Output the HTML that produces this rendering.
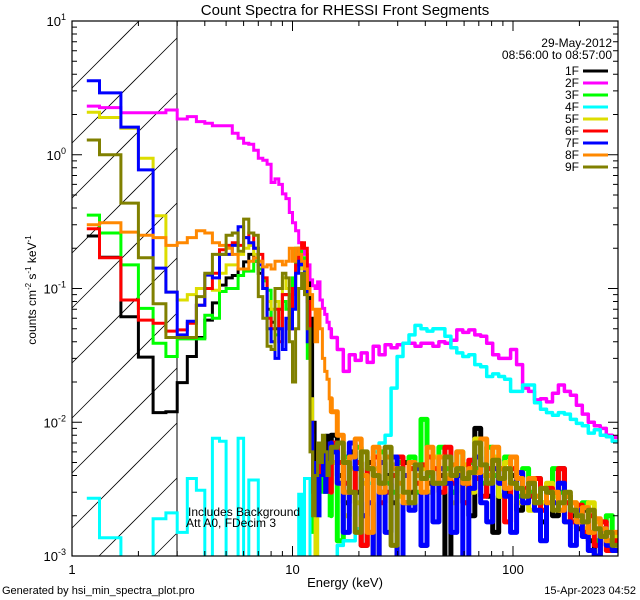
<!DOCTYPE html>
<html><head><meta charset="utf-8"><style>
html,body{margin:0;padding:0;background:#fff;width:640px;height:600px;overflow:hidden;}
svg{display:block;font-family:"Liberation Sans",sans-serif;overflow:hidden;}
</style></head><body>
<svg id="chart" width="640" height="600" viewBox="0 0 640 600" xmlns="http://www.w3.org/2000/svg">
<rect x="0" y="0" width="640" height="600" fill="#fff"/>
<defs><clipPath id="plotclip"><rect x="72" y="21" width="546" height="535"/></clipPath></defs>
<g id="hatch"></g>
<line x1="177" y1="21" x2="177" y2="556" stroke="#000" stroke-width="1"/>
<g id="series" clip-path="url(#plotclip)"></g>
<g id="axes"></g>
<text x="345" y="15" font-size="15" text-anchor="middle">Count Spectra for RHESSI Front Segments</text>
<text x="345" y="587" font-size="13" text-anchor="middle">Energy (keV)</text>
<text transform="translate(36,290) rotate(-90)" font-size="12" text-anchor="middle">counts cm<tspan font-size="8" dy="-5">-2</tspan><tspan dy="5"> s</tspan><tspan font-size="8" dy="-5">-1</tspan><tspan dy="5"> keV</tspan><tspan font-size="8" dy="-5">-1</tspan></text>
<text x="2" y="594" font-size="11">Generated by hsi_min_spectra_plot.pro</text>
<text x="636" y="594" font-size="11" text-anchor="end">15-Apr-2023 04:52</text>
<text x="188" y="516" font-size="12">Includes Background</text>
<text x="186" y="527" font-size="12">Att A0, FDecim 3</text>
<text x="612" y="47" font-size="12" text-anchor="end">29-May-2012</text>
<text x="612" y="59" font-size="12" text-anchor="end">08:56:00 to 08:57:00</text>
<g id="legend"></g>
</svg>
<script>
const NS="http://www.w3.org/2000/svg";
const segNames=["1F","2F","3F","4F","5F","6F","7F","8F","9F"];
const segColors=["#000000","#ff00ff","#00ff00","#00ffff","#dddd00","#ff0000","#0000ff","#ff8800","#808000"];
const xTickLabels=["1","10","100"];
const yTickExps=["1","0","-1","-2","-3"];
const lowEdges=[1.167];for(let k=0;k<=41;k++)lowEdges.push(4/3+k/3);
const highEdges=[];for(let k=0;k<=48;k++)highEdges.push(15*Math.pow(20,k/48));
const s1Low=[0.247,0.171,0.0615,0.0307,0.0118,0.012,0.0198,0.031,0.043,0.058,0.078,0.106,0.12,0.125,0.14,0.158,0.18,0.16,0.13,0.1,0.07,0.056,0.05,0.07,0.09,0.09,0.05,0.1,0.14,0.17,0.16,0.15,0.12,0.06,0.01,0.005,0.002,0.004,0.006,0.003,0.008,0.006];
const s2Low=[2.31,2.25,2.06,2.06,2.06,2.16,1.85,1.93,1.77,1.72,1.65,1.65,1.65,1.45,1.33,1.22,1.2,1.08,0.94,0.91,0.85,0.62,0.66,0.6,0.51,0.47,0.37,0.31,0.27,0.22,0.2,0.18,0.15,0.116,0.105,0.1,0.112,0.082,0.071,0.064,0.056,0.05];
const s3Low=[0.354,0.26,0.15,0.071,0.039,0.031,0.042,0.042,0.042,0.063,0.06,0.095,0.1,0.1,0.125,0.135,0.135,0.16,0.14,0.114,0.097,0.04,0.045,0.05,0.08,0.07,0.09,0.12,0.2,0.19,0.17,0.1,0.03,0.008,0.0015,0.0007,0.003,0.005,0.003,0.006,0.004,0.002];
const s4Low=[0.0027,0.00137,0.0005,0.0005,0.0019,0.0021,0.0015,0.0038,0.0031,0.0005,0.0076,0.0072,0.0005,0.0005,0.0076,0.0005,0.0037,0.0037,0.0005,0.0005,0.0005,0.0005,0.0005,0.0005,0.0005,0.0005,0.0005,0.0005,0.0005,0.0029,0.0005,0.0038,0.0038,0.0005,0.0005,0.0005,0.0005,0.0005,0.0005,0.0005,0.0005,0.0005];
const s5Low=[2.08,1.9,1.58,0.94,0.35,0.094,0.082,0.09,0.1,0.1,0.097,0.13,0.15,0.15,0.18,0.2,0.21,0.18,0.16,0.12,0.08,0.07,0.08,0.06,0.12,0.1,0.08,0.09,0.14,0.15,0.14,0.12,0.07,0.015,0.004,0.0008,0.002,0.005,0.006,0.004,0.005,0.003];
const s6Low=[0.28,0.17,0.082,0.058,0.055,0.048,0.049,0.055,0.075,0.1,0.13,0.195,0.21,0.22,0.21,0.24,0.26,0.2,0.18,0.12,0.06,0.05,0.07,0.04,0.09,0.09,0.05,0.1,0.15,0.2,0.22,0.2,0.08,0.01,0.004,0.003,0.006,0.004,0.007,0.004,0.005,0.003];
const s7Low=[3.57,2.9,1.61,0.77,0.142,0.094,0.045,0.057,0.075,0.126,0.12,0.18,0.18,0.21,0.29,0.24,0.22,0.2,0.15,0.1,0.05,0.04,0.03,0.05,0.035,0.06,0.05,0.07,0.13,0.16,0.15,0.1,0.04,0.01,0.003,0.005,0.002,0.004,0.0065,0.003,0.004,0.007];
const s8Low=[0.3,0.31,0.264,0.25,0.24,0.21,0.22,0.24,0.27,0.26,0.22,0.21,0.2,0.18,0.14,0.14,0.16,0.17,0.16,0.145,0.15,0.14,0.16,0.16,0.15,0.16,0.2,0.16,0.2,0.18,0.16,0.14,0.1,0.09,0.07,0.04,0.07,0.05,0.03,0.024,0.021,0.015];
const s9Low=[1.29,1.0,0.435,0.17,0.077,0.043,0.043,0.043,0.087,0.13,0.18,0.18,0.25,0.26,0.19,0.33,0.26,0.25,0.087,0.06,0.037,0.035,0.1,0.1,0.13,0.12,0.04,0.02,0.05,0.1,0.13,0.09,0.05,0.006,0.002,0.004,0.007,0.005,0.008,0.006,0.004,0.005];
const s1High=[.008,.004,.0025,.006,.003,.0012,.005,.0008,.0035,.004,.0025,.0009,.005,.003,.0045,.0012,.0035,.0055,.004,.0009,.003,.0045,.0035,.002,.009,.004,.0028,.0015,.0045,.003,.004,.0022,.003,.0035,.0025,.0018,.003,.002,.0045,.0028,.002,.0016,.0022,.0013,.0009,.0015,.0012,.0011];
const s2High=[.043,.035,.024,.032,.029,.033,.028,.037,.032,.038,.036,.038,.039,.039,.037,.039,.039,.037,.04,.039,.041,.049,.047,.049,.045,.044,.039,.032,.03,.03,.035,.027,.018,.017,.0147,.015,.0142,.0165,.019,.017,.0159,.0134,.0115,.01,.0094,.009,.008,.0077];
const s3High=[.006,.0013,.0055,.003,.0065,.002,.0045,.004,.006,.0035,.003,.005,.0025,.0055,.003,.0105,.004,.0035,.0065,.0045,.003,.006,.0025,.005,.0045,.0035,.0065,.004,.0028,.0055,.0035,.0028,.0045,.003,.0038,.0025,.0033,.0045,.003,.0025,.0022,.0018,.0025,.0015,.0013,.0018,.002,.0014];
const s4High=[.0005,.0012,.0013,.0013,.0016,.002,.0035,.006,.007,.008,.018,.031,.039,.045,.053,.05,.048,.05,.05,.044,.036,.033,.031,.032,.027,.026,.022,.023,.022,.021,.017,.017,.019,.019,.014,.0125,.0118,.0113,.0118,.0115,.0105,.0098,.0094,.0083,.0088,.008,.0078,.0072];
const s5High=[.005,.0035,.002,.0045,.0025,.0035,.0015,.0045,.003,.0038,.0048,.0028,.004,.0025,.0035,.0045,.003,.0055,.0035,.004,.0025,.0042,.0048,.003,.0075,.004,.0035,.0055,.0028,.005,.0035,.0025,.0032,.0022,.0028,.0025,.0035,.0028,.0022,.0018,.0025,.0021,.0016,.0025,.0018,.0015,.0012,.0014];
const s6High=[.007,.005,.0035,.003,.005,.0012,.0045,.0055,.0025,.003,.004,.0055,.0025,.0045,.0035,.0048,.0055,.0045,.003,.0065,.0035,.0045,.0025,.0052,.0038,.0028,.0045,.0052,.0035,.0018,.0045,.0042,.0032,.0028,.0038,.0022,.0032,.003,.0045,.0025,.0018,.0024,.0015,.002,.0012,.0018,.0011,.0013];
const s7High=[.006,.0035,.0015,.007,.0045,.002,.0025,.0008,.005,.0015,.0055,.0009,.004,.0022,.0045,.0012,.0042,.0018,.0045,.0035,.0015,.004,.0008,.0032,.0055,.0025,.0018,.0045,.0035,.0028,.0015,.0042,.0025,.0035,.0022,.0013,.003,.0025,.0035,.0018,.0012,.0022,.0014,.0011,.001,.0016,.0012,.0011];
const s8High=[.012,.008,.003,.0055,.0075,.004,.0015,.0065,.003,.0055,.0045,.0035,.0025,.005,.004,.003,.0065,.0035,.0055,.0038,.0048,.006,.0035,.0045,.0042,.0075,.004,.0065,.0045,.0032,.0055,.0038,.003,.0038,.0028,.0032,.0025,.003,.0022,.0028,.0025,.0018,.0023,.0015,.0019,.0016,.0013,.0015];
const s9High=[.0065,.007,.005,.003,.0015,.006,.0045,.004,.0035,.0065,.0012,.0045,.003,.0025,.0048,.0038,.0042,.0035,.0035,.0055,.004,.0045,.0038,.0042,.007,.0048,.0035,.0052,.0038,.0045,.0035,.0032,.0028,.0035,.0025,.0032,.003,.0022,.0025,.003,.0022,.002,.0018,.0022,.0016,.0014,.0015,.0012];
const lowSeries=[s1Low,s2Low,s3Low,s4Low,s5Low,s6Low,s7Low,s8Low,s9Low];
const highSeries=[s1High,s2High,s3High,s4High,s5High,s6High,s7High,s8High,s9High];

const X0=72,X1=618,Y0=21,Y1=556,XDEC=220.5,YDEC=133.75;
function xs(e){return X0+XDEC*Math.log10(e);}
function ys(v){return Math.min(Y1+8,(Y0+YDEC)-YDEC*Math.log10(v));}
function el(t,a){const n=document.createElementNS(NS,t);for(const k in a)n.setAttribute(k,a[k]);return n;}
function stepPath(edges,vals){let d="";for(let i=0;i<vals.length;i++){const y=ys(vals[i]).toFixed(1);d+=(i===0?"M":"L")+xs(edges[i]).toFixed(1)+","+y+"L"+xs(edges[i+1]).toFixed(1)+","+y;}return d;}

// hatch: 45deg lines y = c + (177 - x), clipped to region x 72..177, y 21..556
const hatch=document.getElementById("hatch");
for(let c=-17;c<700;c+=55){
  let xa=72,xb=177;
  xa=Math.max(xa,177+c-Y1); xb=Math.min(xb,177+c-Y0);
  if(xb<=xa)continue;
  const ln=el("line",{x1:xa,y1:c+177-xa,x2:xb,y2:c+177-xb,stroke:"#000","stroke-width":0.8});
  
  
  hatch.appendChild(ln);
}

const sg=document.getElementById("series");
for(let s=0;s<9;s++){
  const g=el("g",{});
  
  
  const p1=el("path",{d:stepPath(lowEdges,lowSeries[s]),fill:"none",stroke:segColors[s],"stroke-width":3,"stroke-linejoin":"miter"});
  
  
  const smooth=(s===1||s===3);
  const last=lowSeries[s][lowSeries[s].length-1];
  const p2=el("path",{d:"M"+xs(15).toFixed(1)+","+ys(last).toFixed(1)+stepPath(highEdges,highSeries[s]).replace(/^M/,"L"),fill:"none",stroke:segColors[s],"stroke-width":smooth?3.5:5,"stroke-linejoin":"round","stroke-linecap":"round"});
  
  
  g.appendChild(p1);g.appendChild(p2);sg.appendChild(g);
}

const ax=document.getElementById("axes");
const frame=el("rect",{x:X0,y:Y0,width:X1-X0,height:Y1-Y0,fill:"none",stroke:"#000","stroke-width":1.2});


ax.appendChild(frame);
let tk="";
for(let d=0;d<3;d++){for(let m=1;m<10;m++){const e=m*Math.pow(10,d);const x=xs(e);if(x>X1)continue;const L=m===1?10:5;tk+=`M${x.toFixed(1)},${Y1}v${-L}M${x.toFixed(1)},${Y0}v${L}`;}}
for(let d=-3;d<=1;d++){for(let m=1;m<10;m++){if(d===1&&m>1)continue;const y=ys(m*Math.pow(10,d));const L=m===1?10:5;tk+=`M${X0},${y.toFixed(1)}h${L}M${X1},${y.toFixed(1)}h${-L}`;}}
const ticks=el("path",{d:tk,stroke:"#000","stroke-width":1,fill:"none"});


ax.appendChild(ticks);
xTickLabels.forEach((lab,i)=>{
  const t=el("text",{x:xs(Math.pow(10,i)),y:574,"font-size":13,"text-anchor":"middle"});
  t.textContent=lab;
  
  
  ax.appendChild(t);
});
yTickExps.forEach(ex=>{
  const y=ys(Math.pow(10,+ex));
  const t=el("text",{x:66,y:y+5,"font-size":13,"text-anchor":"end"});
  t.innerHTML='10<tspan font-size="9" dy="-6">'+ex+'</tspan>';
  
  
  ax.appendChild(t);
});

const lg=document.getElementById("legend");


segNames.forEach((n,i)=>{
  const y=71+12*i;
  const g=el("g",{});
  
  
  const t=el("text",{x:579,y:y+4,"font-size":12,"text-anchor":"end"});t.textContent=n;
  const l=el("line",{x1:583,y1:y,x2:608,y2:y,stroke:segColors[i],"stroke-width":3});
  g.appendChild(t);g.appendChild(l);lg.appendChild(g);
});
</script>
</body></html>
